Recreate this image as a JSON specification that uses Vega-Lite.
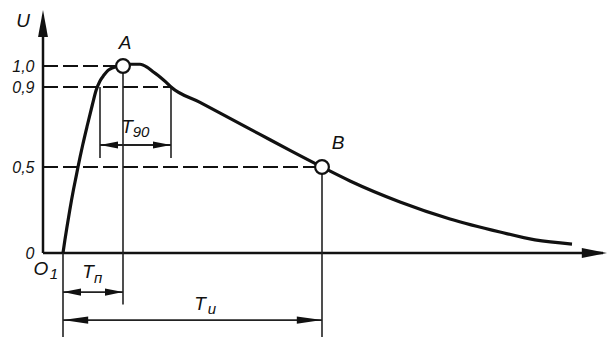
{
  "$schema": "https://vega.github.io/schema/vega-lite/v6.json",
  "width": 569,
  "height": 339,
  "autosize": {"type": "none"},
  "padding": {"left": 43, "top": 0, "right": 0, "bottom": 0},
  "background": "white",
  "config": {"view": {"stroke": null}},
  "datasets": {
    "curve": [
      {"t": 20, "u": 0}, {"t": 21.9, "u": 0.076}, {"t": 23.8, "u": 0.145}, {"t": 26.8, "u": 0.25},
      {"t": 30.4, "u": 0.366}, {"t": 33.4, "u": 0.453}, {"t": 35, "u": 0.5}, {"t": 39.7, "u": 0.61},
      {"t": 44.4, "u": 0.71}, {"t": 49.3, "u": 0.81}, {"t": 53.2, "u": 0.885}, {"t": 57, "u": 0.929},
      {"t": 61, "u": 0.957}, {"t": 65, "u": 0.979}, {"t": 70, "u": 0.992}, {"t": 75, "u": 0.998},
      {"t": 80, "u": 1.0}, {"t": 87, "u": 1.008}, {"t": 97, "u": 1.008}, {"t": 104, "u": 0.995},
      {"t": 110, "u": 0.973}, {"t": 117, "u": 0.948}, {"t": 123, "u": 0.923}, {"t": 128, "u": 0.9},
      {"t": 157, "u": 0.823}, {"t": 187, "u": 0.743}, {"t": 217, "u": 0.663}, {"t": 247, "u": 0.583},
      {"t": 279, "u": 0.5}, {"t": 307, "u": 0.419}, {"t": 357, "u": 0.297}, {"t": 407, "u": 0.198},
      {"t": 457, "u": 0.122}, {"t": 492, "u": 0.076}, {"t": 529, "u": 0.052}
    ],
    "axes": [
      {"t1": 0, "t2": 0, "u1": 0, "u2": 1.2},
      {"t1": 0, "t2": 560, "u1": 0, "u2": 0}
    ],
    "dashes": [
      {"t1": 0, "t2": 74, "u": 1.0},
      {"t1": 0, "t2": 128, "u": 0.9},
      {"t1": 0, "t2": 273, "u": 0.5}
    ],
    "vlines": [
      {"t": 80, "u1": 0.965, "u2": -0.3},
      {"t": 57, "u1": 0.9, "u2": 0.545},
      {"t": 128, "u1": 0.9, "u2": 0.545},
      {"t": 279, "u1": 0.46, "u2": -0.488},
      {"t": 20, "u1": 0, "u2": -0.488}
    ],
    "dims": [
      {"t1": 57, "t2": 128, "u": 0.61},
      {"t1": 20, "t2": 80, "u": -0.227},
      {"t1": 20, "t2": 279, "u": -0.39}
    ],
    "heads": [
      {"t": 128, "u": 0.61, "dir": "right"},
      {"t": 57, "u": 0.61, "dir": "left"},
      {"t": 80, "u": -0.227, "dir": "right"},
      {"t": 20, "u": -0.227, "dir": "left"},
      {"t": 279, "u": -0.39, "dir": "longright"},
      {"t": 20, "u": -0.39, "dir": "longleft"},
      {"t": 564, "u": 0, "dir": "axisright"},
      {"t": 0, "u": 1.255, "dir": "up"}
    ],
    "points": [
      {"t": 80, "u": 1.0, "name": "A"},
      {"t": 279, "u": 0.5, "name": "B"}
    ],
    "labels": [
      {"t": -20, "u": 1.205, "text": "U"},
      {"t": 82, "u": 1.105, "text": "A"},
      {"t": 295, "u": 0.622, "text": "B"},
      {"t": -2, "u": -0.093, "text": "O"},
      {"t": 84, "u": 0.7, "text": "T"},
      {"t": 45, "u": -0.11, "text": "T"},
      {"t": 157, "u": -0.297, "text": "T"}
    ],
    "subs": [
      {"t": 98, "u": 0.675, "text": "90"},
      {"t": 55, "u": -0.145, "text": "п"},
      {"t": 169, "u": -0.326, "text": "и"},
      {"t": 11, "u": -0.122, "text": "1"}
    ]
  },
  "layer": [
    {
      "data": {"name": "axes"},
      "mark": {"type": "rule", "color": "#111", "strokeWidth": 2.5},
      "encoding": {
        "x": {"field": "t1", "type": "quantitative", "scale": {"domain": [0, 569], "nice": false, "zero": false}, "axis": null},
        "x2": {"field": "t2"},
        "y": {"field": "u1", "type": "quantitative", "scale": {"domain": [-0.5, 0, 0.5, 0.9, 1.0, 1.3], "range": [339, 253, 167, 87, 66, 0], "nice": false, "zero": false},
          "axis": {"values": [0, 0.5, 0.9, 1], "labelExpr": "datum.value == 0 ? '0' : replace(format(datum.value, '.1f'), '.', ',')", "domain": false, "ticks": false, "grid": false, "title": null, "labelFont": "Liberation Sans", "labelFontStyle": "italic", "labelFontSize": 16, "labelColor": "#111", "labelPadding": 9, "labelOverlap": false, "labelBaseline": "middle",
            "encode": {"labels": {"update": {"dy": {"signal": "datum.value == 0 ? -8 : 0"}, "dx": {"signal": "datum.value == 0 ? -4 : 0"}}}}}},
        "y2": {"field": "u2"}
      }
    },
    {
      "data": {"name": "dashes"},
      "mark": {"type": "rule", "color": "#111", "strokeWidth": 2, "strokeDash": [15, 5]},
      "encoding": {
        "x": {"field": "t1", "type": "quantitative"},
        "x2": {"field": "t2"},
        "y": {"field": "u", "type": "quantitative"}
      }
    },
    {
      "data": {"name": "vlines"},
      "mark": {"type": "rule", "color": "#222", "strokeWidth": 1.6},
      "encoding": {
        "x": {"field": "t", "type": "quantitative"},
        "y": {"field": "u1", "type": "quantitative"},
        "y2": {"field": "u2"}
      }
    },
    {
      "data": {"name": "dims"},
      "mark": {"type": "rule", "color": "#222", "strokeWidth": 1.8},
      "encoding": {
        "x": {"field": "t1", "type": "quantitative"},
        "x2": {"field": "t2"},
        "y": {"field": "u", "type": "quantitative"}
      }
    },
    {
      "data": {"name": "heads"},
      "mark": {"type": "point", "filled": true, "color": "#111", "opacity": 1, "size": 324, "strokeWidth": 0},
      "encoding": {
        "x": {"field": "t", "type": "quantitative"},
        "y": {"field": "u", "type": "quantitative"},
        "shape": {"field": "dir", "type": "nominal", "legend": null,
          "scale": {"domain": ["right", "left", "longright", "longleft", "axisright", "up"],
            "range": ["M0,0L-2,-0.4L-2,0.4Z", "M0,0L2,-0.4L2,0.4Z", "M0,0L-2.8,-0.4L-2.8,0.4Z", "M0,0L2.8,-0.4L2.8,0.4Z", "M0,0L-2.8,-0.55L-2.8,0.55Z", "M0,0L-0.55,3L0.55,3Z"]}}
      }
    },
    {
      "data": {"name": "curve"},
      "mark": {"type": "line", "color": "#111", "strokeWidth": 3.2, "interpolate": "monotone"},
      "encoding": {
        "x": {"field": "t", "type": "quantitative"},
        "y": {"field": "u", "type": "quantitative"}
      }
    },
    {
      "data": {"name": "points"},
      "mark": {"type": "point", "shape": "circle", "filled": false, "fill": "white", "fillOpacity": 1, "stroke": "#111", "strokeWidth": 2.2, "size": 190, "opacity": 1},
      "encoding": {
        "x": {"field": "t", "type": "quantitative"},
        "y": {"field": "u", "type": "quantitative"}
      }
    },
    {
      "data": {"name": "labels"},
      "mark": {"type": "text", "font": "Liberation Sans", "fontStyle": "italic", "fontSize": 19, "color": "#111", "align": "center", "baseline": "middle"},
      "encoding": {
        "x": {"field": "t", "type": "quantitative"},
        "y": {"field": "u", "type": "quantitative"},
        "text": {"field": "text"}
      }
    },
    {
      "data": {"name": "subs"},
      "mark": {"type": "text", "font": "Liberation Sans", "fontStyle": "italic", "fontSize": 15, "color": "#111", "align": "center", "baseline": "middle"},
      "encoding": {
        "x": {"field": "t", "type": "quantitative"},
        "y": {"field": "u", "type": "quantitative"},
        "text": {"field": "text"}
      }
    }
  ]
}
